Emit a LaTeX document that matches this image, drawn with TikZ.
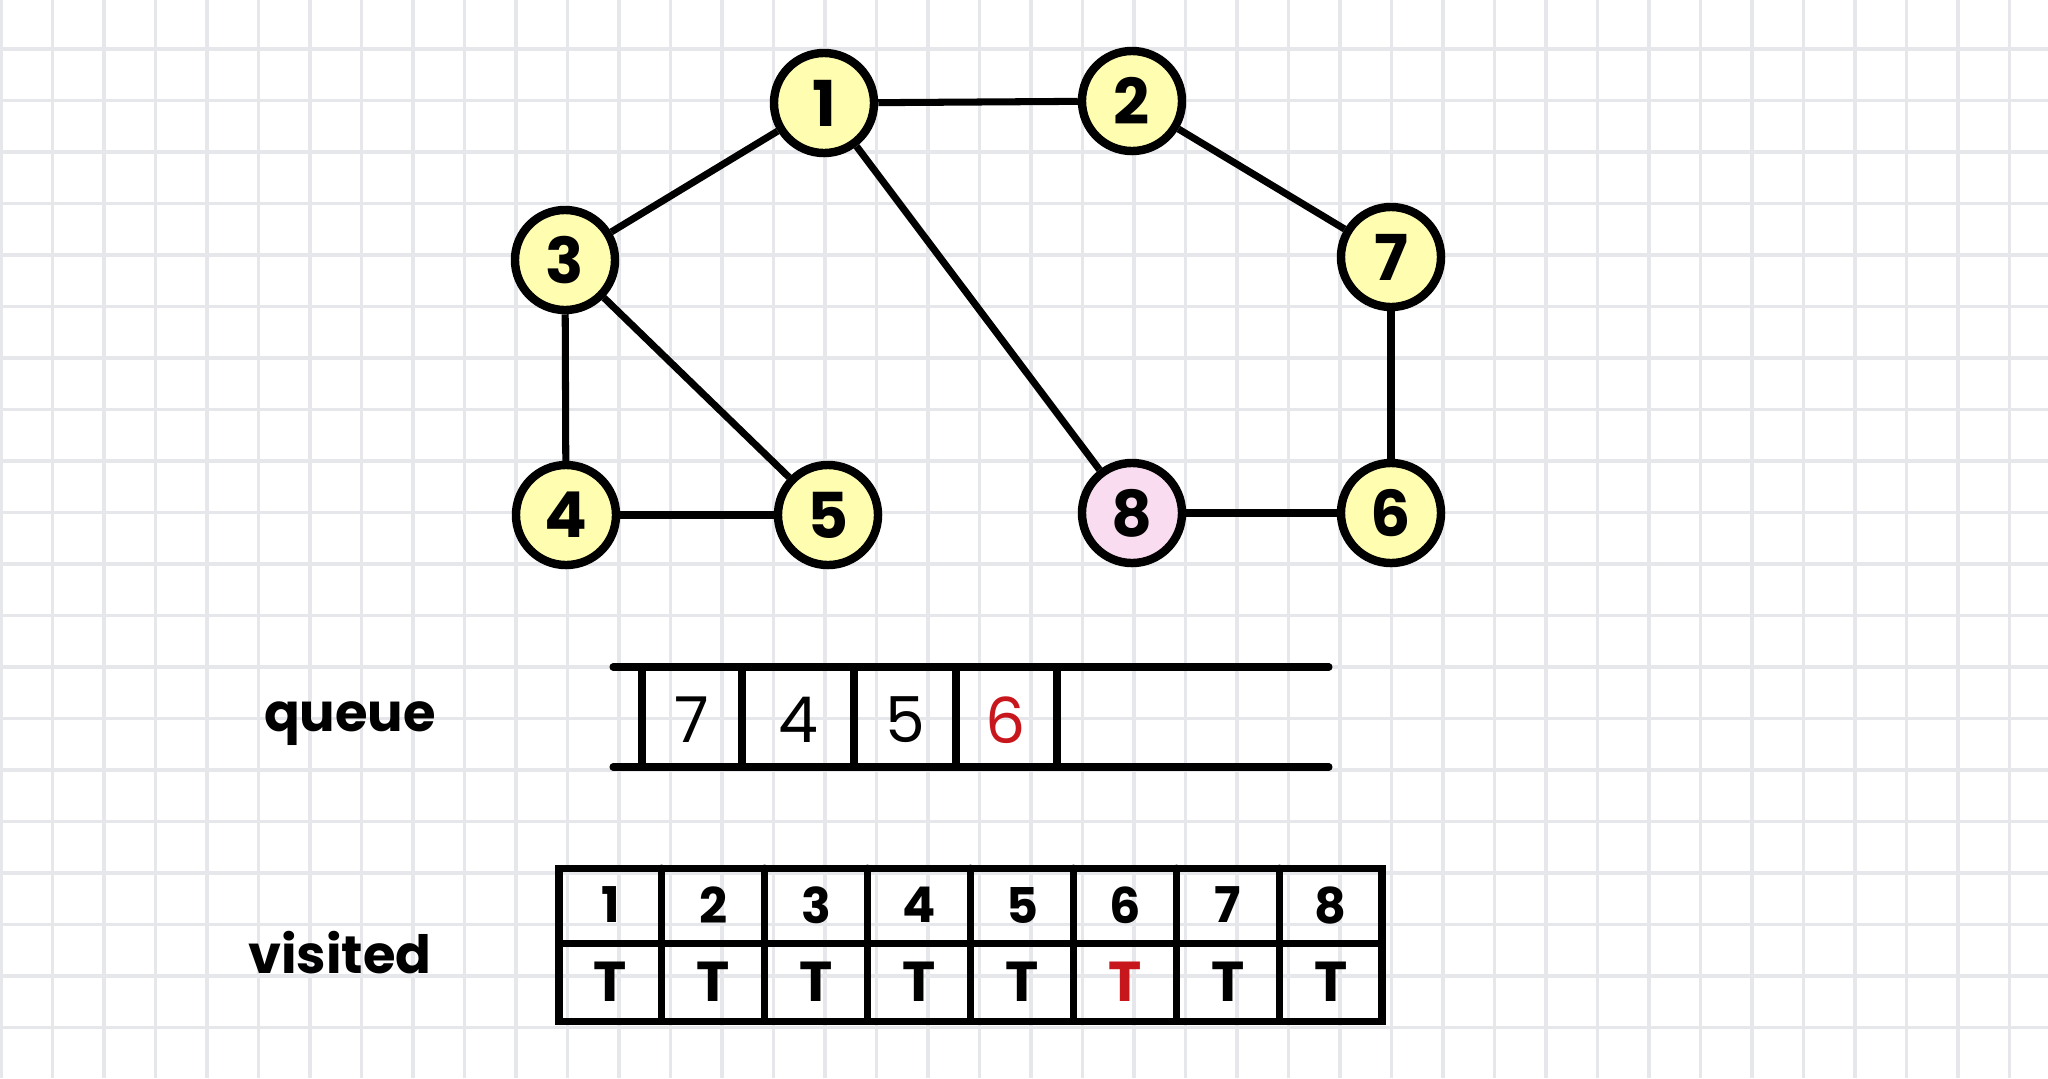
\documentclass[tikz,border=0pt]{standalone}
\usepackage{fontspec}
\setmainfont{Poppins}
\definecolor{nodeyellow}{HTML}{FFFDB0}
\definecolor{nodepink}{HTML}{FADCF0}
\definecolor{gridgray}{HTML}{E6E7EA}
\definecolor{markred}{HTML}{C8161D}
\tikzset{
    gridline/.style={
        gridgray, line width=0.9pt
    },
    edge/.style={
        line width=2pt
    },
    vertex/.style={
        circle, draw, line width=2.4pt, fill=nodeyellow,
        minimum size=1cm, inner sep=0pt,
        font=\fontsize{18}{20}\selectfont\bfseries
    },
    boxline/.style={
        line width=2pt, line cap=round
    },
    qitem/.style={
        font=\fontsize{18}{20}\selectfont
    },
    cell/.style={
        font=\fontsize{14}{16}\selectfont\bfseries
    },
    tag/.style={
        font=\fontsize{15}{17}\selectfont\bfseries
    }
}

\begin{document}
\begin{tikzpicture}[x=0.01cm, y=-0.01cm]
    \useasboundingbox (0,0) rectangle (2048,1078);
    % paper grid
    \foreach \i in {0, ..., 39} {
        \draw [gridline] ({1 + 51.5 * \i}, 0) -- ({1 + 51.5 * \i}, 1078);
    }
    \foreach \j in {1, ..., 20} {
        \draw [gridline] (0, {-2.5 + 51.5 * \j}) -- (2048, {-2.5 + 51.5 * \j});
    }

    % graph
    \node [vertex] (v1) at (824, 103) {1};
    \node [vertex] (v2) at (1132, 101) {2};
    \node [vertex] (v3) at (565, 260) {3};
    \node [vertex] (v7) at (1391, 257) {7};
    \node [vertex] (v4) at (566, 515) {4};
    \node [vertex] (v5) at (828, 515) {5};
    \node [vertex, fill=nodepink] (v8) at (1132, 513) {8};
    \node [vertex] (v6) at (1391, 513) {6};
    \foreach \a/\b in {v1/v2, v1/v3, v1/v8, v2/v7, v3/v4, v3/v5, v4/v5, v7/v6, v8/v6} {
        \draw [edge] (\a) -- (\b);
    }

    % queue
    \node [tag] (queue) at (350, 724) {queue};
    \coordinate (qtl) at (613, 667);
    \coordinate (qtr) at (1329, 667);
    \coordinate (qbl) at (613, 767);
    \coordinate (qbr) at (1329, 767);
    \draw [boxline] (qtl) -- (qtr);
    \draw [boxline] (qbl) -- (qbr);
    \foreach \x in {642, 742, 854, 956, 1057} {
        \draw [boxline] (\x, 669) -- (\x, 765);
    }
    \foreach \x/\v in {692/7, 798/4, 905/5} {
        \node [qitem] (q\v) at (\x, 720) {\v};
    }
    \node [qitem, text=markred] (q6) at (1006, 720) {6};

    % visited
    \node [tag] (visited) at (340, 953) {visited};
    \draw [boxline] (559, 868) rectangle (1382, 1021);
    \draw [boxline] (559, 943) -- (1382, 943);
    \foreach \c in {1, ..., 7} {
        \draw [boxline] ({559 + 102.9 * \c}, 868) -- ({559 + 102.9 * \c}, 1021);
    }
    \foreach \c/\col in {1/black, 2/black, 3/black, 4/black, 5/black, 6/markred, 7/black, 8/black} {
        \node [cell] (id\c) at ({559 + 102.9 * (\c - 0.5)}, 905) {\c};
        \node [cell, text=\col, font=\fontsize{16}{18}\selectfont\bfseries] (vis\c) at ({559 + 102.9 * (\c - 0.5)}, 982) {T};
    }
\end{tikzpicture}
\end{document}
